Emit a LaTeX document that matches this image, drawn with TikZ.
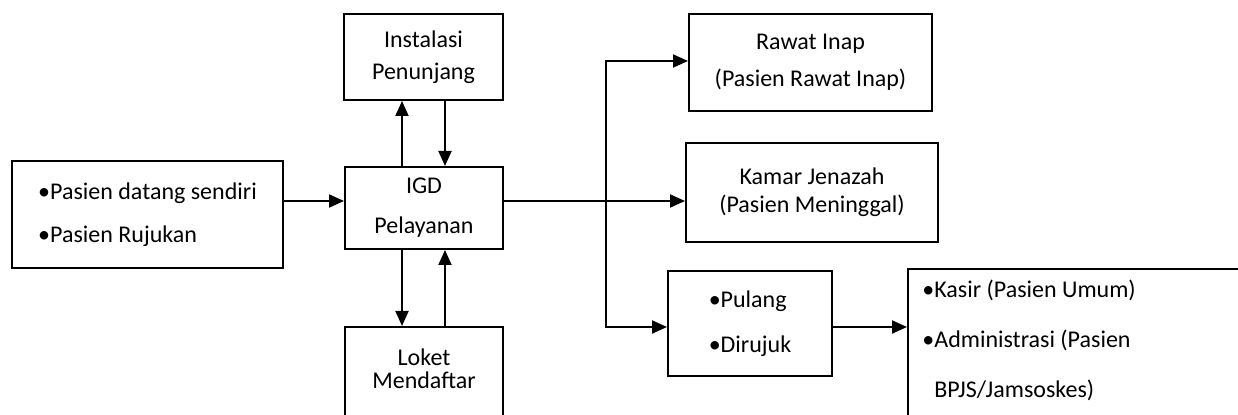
\documentclass[tikz,border=0pt]{standalone}
\usepackage{fontspec}
\setmainfont{Carlito}
\usetikzlibrary{arrows.meta}
\begin{document}
\begin{tikzpicture}[x=0.5pt,y=-0.5pt,
  box/.style={draw,line width=1pt,inner sep=0pt,align=center},
  arr/.style={line width=1pt,-{Triangle[length=7.5pt,width=6.5pt]}},
  ln/.style={line width=1pt}]
\useasboundingbox (0,0) rectangle (1238,415);
\clip (0,0) rectangle (1238,415);
% boxes
\node[box,minimum width=135.5pt,minimum height=53.5pt,align=left,
  font=\fontsize{12}{21.5}\selectfont] (src) at (147.5,214.5) {•Pasien datang sendiri\\•Pasien Rujukan};
\node[box,minimum width=79pt,minimum height=41pt,font=\fontsize{12}{20}\selectfont] (igd) at (424,208) {IGD\\Pelayanan};
\node[box,minimum width=79.5pt,minimum height=43pt,font=\fontsize{12}{16}\selectfont] (inst) at (423.5,57) {Instalasi\\Penunjang};
\node[box,minimum width=79pt,minimum height=46.5pt,font=\fontsize{12}{14.5}\selectfont] (loket) at (424,373.5) {\raisebox{4.5pt}{\shortstack{Loket\\[0pt]Mendaftar}}};
\node[box,minimum width=121.5pt,minimum height=48.5pt,font=\fontsize{12}{18.5}\selectfont] (rawat) at (810.5,62.5) {Rawat Inap\\(Pasien Rawat Inap)};
\node[box,minimum width=126pt,minimum height=49.5pt,font=\fontsize{12}{14}\selectfont] (kamar) at (812,192.5) {Kamar Jenazah\\(Pasien Meninggal)};
\node[box,minimum width=82pt,minimum height=52.5pt,align=left,font=\fontsize{12}{22.5}\selectfont] (pulang) at (750,323.5) {•Pulang\\•Dirujuk};
\node[box,anchor=north west,minimum width=180pt,minimum height=80pt] (kasir) at (907,268) {};
\node[anchor=west,align=left,inner sep=0pt,font=\fontsize{12}{25}\selectfont] (kasirtxt) at (922,340)
  {•Kasir (Pasien Umum)\\•Administrasi (Pasien\\\hphantom{•}BPJS/Jamsoskes)};
% connectors
\draw[arr] (src.east |- 0,201) -- (igd.west |- 0,201);
\draw[arr] (igd.north -| 402,0) -- (inst.south -| 402,0);
\draw[arr] (inst.south -| 445,0) -- (igd.north -| 445,0);
\draw[arr] (igd.south -| 402,0) -- (loket.north -| 402,0);
\draw[arr] (loket.north -| 445,0) -- (igd.south -| 445,0);
\coordinate (split) at (606,201);
\draw[ln] (igd.east |- split) -- (split);
\draw[arr] (split) -- (kamar.west |- split);
\draw[arr] (split) |- (rawat.west |- 0,61);
\draw[arr] (split) |- (pulang.west |- 0,327);
\draw[arr] (pulang.east |- 0,327) -- (kasir.west |- 0,327);
\end{tikzpicture}
\end{document}
